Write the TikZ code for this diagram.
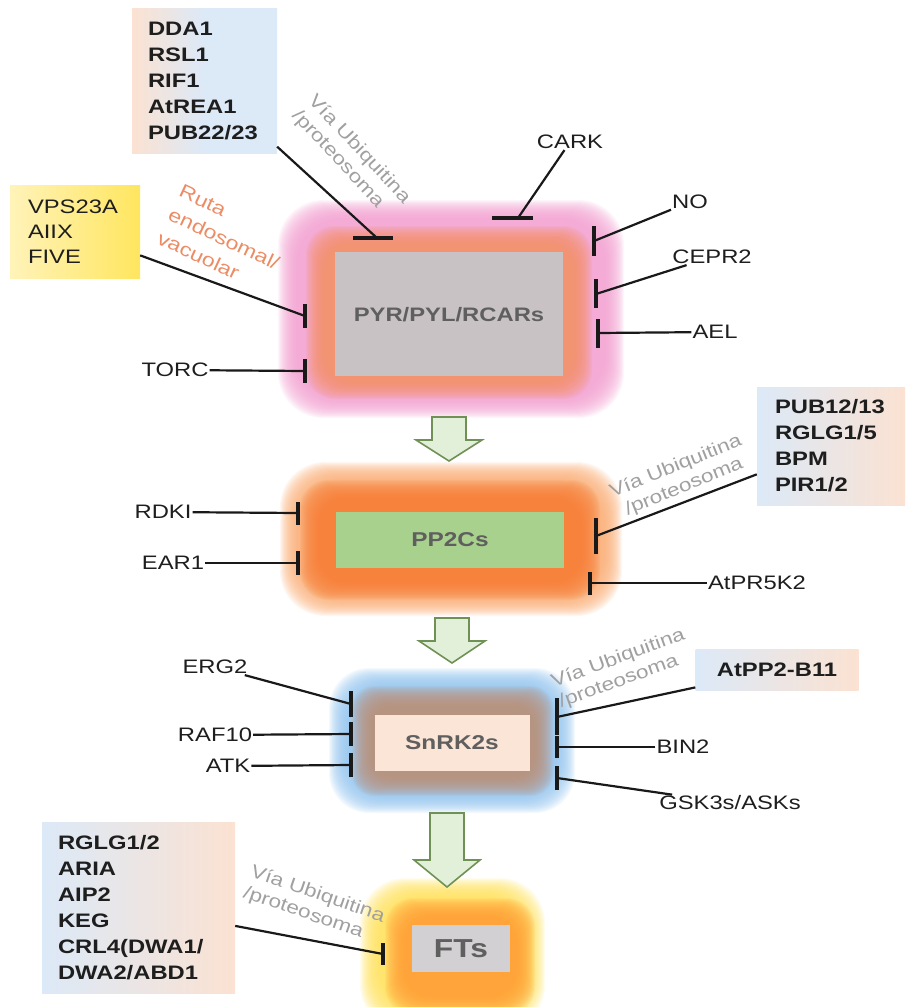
\documentclass[tikz,border=0pt]{standalone}
\usepackage{fontspec}
\setmainfont{Liberation Sans}[FakeStretch=1.22]

\definecolor{pinkglow}{RGB}{242,160,208}
\definecolor{pyrorange}{RGB}{249,145,105}
\definecolor{pyrgrey}{RGB}{200,194,197}
\definecolor{ppouter}{RGB}{250,172,115}
\definecolor{ppinner}{RGB}{247,128,55}
\definecolor{ppgreen}{RGB}{169,209,142}
\definecolor{snblue}{RGB}{145,195,238}
\definecolor{snbrown}{RGB}{190,145,120}
\definecolor{snpeach}{RGB}{251,229,214}
\definecolor{ftyellow}{RGB}{255,225,90}
\definecolor{ftorange}{RGB}{255,160,55}
\definecolor{ftgrey}{RGB}{210,208,210}
\definecolor{bluec}{RGB}{220,233,247}
\definecolor{peachc}{RGB}{251,226,210}
\definecolor{vpslight}{RGB}{255,243,185}
\definecolor{vpsyellow}{RGB}{255,230,95}
\definecolor{arrowfill}{RGB}{226,240,217}
\definecolor{arrowline}{RGB}{112,145,85}
\definecolor{lbltext}{RGB}{30,30,30}
\definecolor{ubgrey}{RGB}{160,160,160}
\definecolor{rutaorange}{RGB}{236,140,100}
\definecolor{titlegrey}{RGB}{95,95,95}

% soft glow: stacked rounded rectangles
\newcommand{\glowbox}[6]{%
  \foreach \k in {0,...,19}
    \fill[#1, opacity=0.1, rounded corners=#6pt] ({#2+\k},{#3+\k}) rectangle ({#4-\k},{#5-\k});
}

\tikzset{
  lbl/.style={font=\fontsize{19.5}{24}\selectfont, text=lbltext, inner sep=1pt},
  listbox/.style={font=\fontsize{19.5}{26}\selectfont\bfseries, text=lbltext, align=left, inner xsep=16pt},
  ubtext/.style={font=\fontsize{18.5}{22}\selectfont, text=ubgrey, inner sep=0pt},
  title/.style={font=\fontsize{19.5}{23}\selectfont\bfseries, text=titlegrey},
  inh/.style={line width=2.2pt, black!90},
  tbar/.style={line width=4.5pt, black!90},
  blockarrow/.style={fill=arrowfill, draw=arrowline, line width=1.6pt, line join=miter},
}

\begin{document}
\begin{tikzpicture}[x=1pt,y=-1pt]
  \useasboundingbox (0,0) rectangle (911,1007);

  % receptor box
  \glowbox{pinkglow}{278}{200}{624}{418}{45}
  \glowbox{pyrorange}{306}{226}{592}{399}{28}
  \fill[pyrgrey] (335,252) rectangle (563,376);
  \node[title] (pyr) at (449,315) {PYR/PYL/RCARs};

  % phosphatase box
  \glowbox{ppouter}{280}{462}{622}{616}{45}
  \glowbox{ppinner}{300}{480}{600}{600}{28}
  \fill[ppgreen] (336,512) rectangle (564,568);
  \node[title, font=\fontsize{20}{24}\selectfont\bfseries] (pp) at (450,540) {PP2Cs};

  % kinase box
  \glowbox{snblue}{329}{668}{575}{813}{40}
  \glowbox{snbrown}{352}{686}{553}{796}{22}
  \fill[snpeach] (375,715) rectangle (530,771);
  \node[title, font=\fontsize{20}{24}\selectfont\bfseries] (snrk) at (452,743) {SnRK2s};

  % transcription factors
  \glowbox{ftyellow}{360}{878}{545}{1030}{45}
  \glowbox{ftorange}{385}{898}{535}{1015}{28}
  \fill[ftgrey] (412,925) rectangle (510,972);
  \node[title, font=\fontsize{26}{30}\selectfont\bfseries] (ft) at (461,949) {FTs};

  \foreach \c/\t/\h/\p in {449/417/440/461, 452/618/641/663, 447/813/860/887}
    \draw[blockarrow] ({\c-17},\t) -- ({\c+17},\t) -- ({\c+17},\h) -- ({\c+33},\h)
      -- (\c,\p) -- ({\c-33},\h) -- ({\c-17},\h) -- cycle;

  % regulators of PYR/PYL/RCARs
  \node[listbox, left color=peachc, right color=bluec, middle color=bluec,
        text width=113pt, minimum height=145pt] (dda) at (204.5,80.5)
        {DDA1\\RSL1\\RIF1\\AtREA1\\PUB22/23};
  \coordinate (ddab) at (377,238);
  \draw[inh] (dda) -- (ddab);
  \draw[tbar] ([xshift=-24pt]ddab) -- ([xshift=16pt]ddab);
  \node[ubtext, rotate=-47, align=left] (ub1) at (351,157) {Vía Ubiquitina\\/proteosoma};

  \node[lbl] (cark) at (570,142) {CARK};
  \coordinate (carkb) at (518,218);
  \draw[inh] (cark) -- (carkb);
  \draw[tbar] ([xshift=-26pt]carkb) -- ([xshift=15pt]carkb);

  \node[lbl] (no) at (690,202) {NO};
  \coordinate (nob) at (594,241);
  \draw[inh] (no) -- (nob);
  \draw[tbar] ([yshift=15pt]nob) -- ([yshift=-15pt]nob);

  \node[lbl] (cepr) at (712,257) {CEPR2};
  \coordinate (ceprb) at (596,294);
  \draw[inh] (cepr) -- (ceprb);
  \draw[tbar] ([yshift=15pt]ceprb) -- ([yshift=-14pt]ceprb);

  \node[lbl] (ael) at (715,332) {AEL};
  \coordinate (aelb) at (598,333);
  \draw[inh] (ael) -- (aelb);
  \draw[tbar] ([yshift=14pt]aelb) -- ([yshift=-15pt]aelb);

  \node[listbox, font=\fontsize{19.5}{25}\selectfont, left color=vpslight, right color=vpsyellow,
        inner xsep=18pt, text width=94pt, minimum height=93pt] (vps) at (75,231.5)
        {VPS23A\\AIIX\\FIVE};
  \coordinate (vpsb) at (305,316);
  \draw[inh] (vps) -- (vpsb);
  \draw[tbar] ([yshift=12pt]vpsb) -- ([yshift=-12pt]vpsb);
  \node[ubtext, text=rutaorange, font=\fontsize{19}{26}\selectfont, rotate=-25, align=left] (ruta)
        at (224,239) {Ruta\\endosomal/\\vacuolar};

  \node[lbl] (torc) at (175,370) {TORC};
  \coordinate (torcb) at (305,371);
  \draw[inh] (torc) -- (torcb);
  \draw[tbar] ([yshift=12pt]torcb) -- ([yshift=-12pt]torcb);

  % regulators of PP2Cs
  \node[lbl] (rdki) at (163,512) {RDKI};
  \coordinate (rdkib) at (298,513);
  \draw[inh] (rdki) -- (rdkib);
  \draw[tbar] ([yshift=11pt]rdkib) -- ([yshift=-12pt]rdkib);

  \node[lbl] (ear) at (173,563) {EAR1};
  \coordinate (earb) at (298,563);
  \draw[inh] (ear) -- (earb);
  \draw[tbar] ([yshift=12pt]earb) -- ([yshift=-12pt]earb);

  \node[listbox, left color=bluec, right color=peachc, inner xsep=18pt,
        text width=112pt, minimum height=118pt] (pub) at (831,446)
        {PUB12/13\\RGLG1/5\\BPM\\PIR1/2};
  \coordinate (pubb) at (596,536);
  \draw[inh] (pub) -- (pubb);
  \draw[tbar] ([yshift=18pt]pubb) -- ([yshift=-18pt]pubb);
  \node[ubtext, rotate=22, align=center] (ub2) at (680,477) {Vía Ubiquitina\\/proteosoma};

  \node[lbl] (atpr) at (757,583) {AtPR5K2};
  \coordinate (atprb) at (590,583);
  \draw[inh] (atpr) -- (atprb);
  \draw[tbar] ([yshift=11pt]atprb) -- ([yshift=-12pt]atprb);

  % regulators of SnRK2s
  \node[lbl] (erg) at (215,667) {ERG2};
  \coordinate (ergb) at (351,704);
  \draw[inh] (erg) -- (ergb);
  \draw[tbar] ([yshift=13pt]ergb) -- ([yshift=-13pt]ergb);

  \node[lbl] (raf) at (215,735) {RAF10};
  \coordinate (rafb) at (351,734);
  \draw[inh] (raf) -- (rafb);
  \draw[tbar] ([yshift=12pt]rafb) -- ([yshift=-12pt]rafb);

  \node[lbl] (atk) at (228,766) {ATK};
  \coordinate (atkb) at (351,765);
  \draw[inh] (atk) -- (atkb);
  \draw[tbar] ([yshift=12pt]atkb) -- ([yshift=-12pt]atkb);

  \node[listbox, align=center, left color=bluec, right color=peachc, inner xsep=0pt,
        minimum width=163pt, minimum height=41pt] (atpp) at (777,670) {AtPP2-B11};
  \coordinate (atppb) at (557,717);
  \draw[inh] (atpp) -- (atppb);
  \draw[tbar] ([yshift=19pt]atppb) -- ([yshift=-18pt]atppb);
  \node[ubtext, rotate=20, align=left] (ub3) at (622,669) {Vía Ubiquitina\\/proteosoma};

  \node[lbl] (bin) at (683,747) {BIN2};
  \coordinate (binb) at (557,747);
  \draw[inh] (bin) -- (binb);
  \draw[tbar] ([yshift=11pt]binb) -- ([yshift=-11pt]binb);

  \node[lbl] (gsk) at (730,803) {GSK3s/ASKs};
  \coordinate (gskb) at (557,778);
  \draw[inh] (gsk) -- (gskb);
  \draw[tbar] ([yshift=12pt]gskb) -- ([yshift=-12pt]gskb);

  % regulators of FTs
  \node[listbox, left color=bluec, right color=peachc, text width=161pt,
        minimum height=171pt] (rglg) at (138.5,907.5)
        {RGLG1/2\\ARIA\\AIP2\\KEG\\CRL4(DWA1/\\DWA2/ABD1};
  \coordinate (rglgb) at (383,954);
  \draw[inh] (rglg) -- (rglgb);
  \draw[tbar] ([yshift=11pt]rglgb) -- ([yshift=-11pt]rglgb);
  \node[ubtext, rotate=-19, align=left] (ub4) at (314,905) {Vía Ubiquitina\\/proteosoma};
\end{tikzpicture}
\end{document}
